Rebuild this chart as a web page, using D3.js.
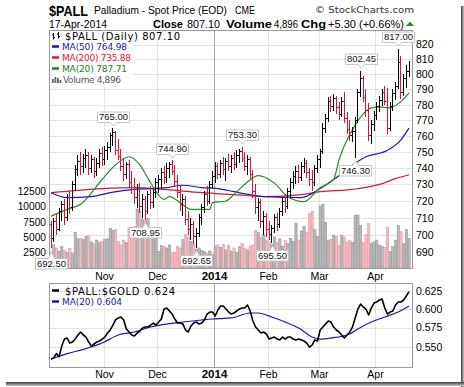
<!DOCTYPE html>
<html>
<head>
<meta charset="utf-8">
<title>$PALL</title>
<script src="https://cdn.jsdelivr.net/npm/d3@7"></script>
<style>
  body { margin: 0; background: #fff; }
  svg { display: block; }
</style>
</head>
<body>
<svg width="464" height="387" id="mainsvg"></svg>
<script>
// ---- data (one entry per trading day, 3-Oct-2013 .. 17-Apr-2014)
const opens = [706,698,708,703,714,718,710,722,716,730,
  739,744,741,746,748,740,745,738,743,749,
  745,751,753,760,762,751,747,741,736,742,
  731,727,722,728,717,721,714,724,719,725,
  731,733,737,734,740,742,738,732,725,718,
  721,709,703,706,699,701,710,716,724,720,
  730,735,741,736,743,739,744,741,746,742,
  748,750,746,741,745,736,726,716,719,708,
  711,703,700,704,710,706,714,720,717,726,
  731,735,738,734,741,743,737,733,731,740,
  745,750,765,771,782,779,784,778,774,782,
  771,764,760,763,770,788,797,785,776,760,
  767,773,779,783,788,782,765,779,787,792,
  808,788,797,801.8];
const highs = [708,710,712,716,720,721,724,726,732,742,
  748,750,749,752,750,748,747,746,752,753,
  754,756,762,765,763,758,752,746,744,745,
  738,734,730,731,724,723,726,729,727,734,
  736,740,741,743,744,744.9,742,736,729,724,
  723,714,710,708,704,712,718,726,729,732,
  738,744,743,745,747,746,749,748,750,751,
  752,753.3,750,748,747,739,730,722,721,714,
  713,708,706,712,713,716,722,724,728,734,
  738,741,742,744,746,745,740,739,742,748,
  752,768,774,785,786,787,786,782,785,788,
  775,770,766,772,790,802.45,799,790,781,770,
  776,782,786,790,792,791,782,790,795,817,
  812,800,806,809];
const lows = [692.5,696,700,702,708,706,708,712,714,726,
  735,736,737,740,736,737,734,735,740,741,
  742,745,750,754,748,745,738,732,733,728,
  724,718,716,713,710,708.95,712,715,716,722,
  725,728,730,731,734,736,729,722,714,711,
  706,700,697,695,692.65,699,706,713,717,718,
  727,731,733,734,736,732,738,737,739,740,
  743,744,738,736,733,722,712,708,704,700,
  699,697,695.5,701,702,704,711,713,715,722,
  727,730,731,732,737,734,729,726,729,737,
  740,749,762,769,775,776,774,770,772,768,
  761,757,756,746.3,768,785,782,772,757,755,
  763,770,775,779,780,761,763,776,783,790,
  784,786,791,798];
const closes = [698,708,703,714,718,710,722,716,730,739,
  744,741,746,748,740,745,738,743,749,745,
  751,753,760,762,751,747,741,736,742,731,
  727,722,728,717,721,714,724,719,725,731,
  733,737,734,740,742,738,732,725,718,721,
  709,703,706,699,701,710,716,724,720,730,
  735,741,736,743,739,744,741,746,742,748,
  750,746,741,745,736,726,716,719,708,711,
  703,700,704,710,706,714,720,717,726,731,
  735,738,734,741,743,737,733,731,740,745,
  750,765,771,782,779,784,778,774,782,771,
  764,760,763,770,788,797,785,776,760,767,
  773,779,783,788,782,765,779,787,792,808,
  788,797,801.8,807.1];
const volumes = [2600,3800,3300,2800,3500,2900,2600,3200,2400,5900,
  4800,4900,4700,5200,5300,4300,4000,4600,4200,4400,
  4700,4800,6500,6200,6300,4400,3800,4600,4200,6700,
  6600,6800,9700,9300,8000,7800,8200,5400,5000,5200,
  2700,3700,3500,3300,3800,2500,2600,3600,3300,4700,
  5500,5100,4400,3900,3100,3300,2900,2700,2400,2800,
  2200,3600,3800,3400,3900,3000,3700,2800,3300,2600,
  3500,4000,3200,3000,3600,3800,6200,5800,5000,5400,
  4600,4300,3900,5100,4200,4800,3600,4500,4000,4900,
  4400,7400,4600,6100,6800,5900,9000,9300,6300,5200,
  10200,10500,7500,4600,4700,5400,5200,3700,5400,5100,
  4300,4500,4200,8700,8700,7000,4200,5500,7300,4100,
  4300,4600,3800,3600,3400,6700,2700,3500,4600,7000,
  6000,4000,6300,4896];
const ratio = [.5352,.5365,.5418,.5378,.5512,.5601,.5614,.5550,.5563,.5601,
  .5653,.5692,.5653,.5627,.5563,.5512,.5538,.5563,.5576,.5601,
  .5627,.5679,.5718,.5783,.5850,.5877,.5890,.5850,.5731,.5692,
  .5653,.5640,.5679,.5705,.5744,.5757,.5757,.5783,.5809,.5783,
  .5823,.5863,.5998,.6012,.5971,.5930,.5863,.5809,.5809,.5796,
  .5718,.5692,.5770,.5809,.5823,.5796,.5809,.5850,.5930,.5957,
  .5957,.5903,.5985,.6039,.6039,.5998,.5957,.5930,.5944,.5971,
  .5998,.6012,.6012,.6053,.5971,.5836,.5757,.5718,.5679,.5692,
  .5666,.5601,.5614,.5627,.5601,.5589,.5627,.5601,.5627,.5627,
  .5601,.5589,.5601,.5589,.5576,.5550,.5499,.5525,.5589,.5576,
  .5718,.5757,.5796,.5836,.5823,.5757,.5718,.5692,.5653,.5614,
  .5653,.5692,.5757,.5877,.5998,.6067,.6025,.5998,.5917,.6012,
  .6081,.6095,.6123,.6137,.6012,.5930,.5957,.5971,.6053,.6095,
  .6095,.6123,.6179,.624];

// moving averages read at points along the curves: [bar index, value]
const ma20 = [[0,711],[6,715],[11,718],[19,733],[24,742],[29,747],[33,742],[37,731],[42,721],[44,722.6],
  [48,719],[52,715],[59,715],[60,719],[65,720],[68,724],[73,731.5],[77,735.3],[83,730.8],[88,722.6],
  [94,719.6],[100,728],[105,733],[107,745],[112,764],[115,772],[119,778],[122,778.6],[125,778],
  [127,778.6],[130,782],[133,787.71]];
const ma50 = [[0,725],[6,722],[15,722.6],[22,725],[31,727],[37,727.5],[43,728.1],[49,729.5],[56,728.1],
  [62,727.5],[68,725.6],[74,723.8],[80,722.6],[93,722],[100,727.5],[105,733],[117,747],[125,751],
  [130,757.6],[133,764.98]];
const ma200 = [[0,725],[19,727.5],[31,728.1],[43,726.8],[56,725],[68,723.8],[80,722.6],[93,723.8],
  [100,725.6],[112,727],[122,730],[128,733.5],[133,735.88]];
const ratioMa20 = [[0,.5352],[6,.5418],[12,.5470],[19,.5550],[25,.5653],[31,.5692],[37,.5757],[43,.5796],
  [49,.5823],[56,.5850],[60,.5863],[67,.5877],[74,.5944],[77,.5944],[82,.5890],[87,.5823],[92,.5744],
  [97,.5627],[100,.5601],[104,.5614],[111,.5666],[114,.5731],[119,.5823],[124,.5890],[129,.5957],[133,.604]];

// axes / labels
const monthIdx = [20, 40, 61, 81, 100, 121];
const monthLabels = ['Nov', 'Dec', '2014', 'Feb', 'Mar', 'Apr'];
const priceTicks = [690,700,710,720,730,740,750,760,770,780,790,800,810,820];
const volumeTicks = [2500, 5000, 7500, 10000, 12500];
const ratioTicks = [0.550, 0.575, 0.600, 0.625];
const annIdx = [0, 23, 35, 45, 54, 71, 82, 113, 115, 129];
const annVal = [692.50, 765.00, 708.95, 744.90, 692.65, 753.30, 695.50, 746.30, 802.45, 817.00];
const annSide = ['lo','hi','lo','hi','lo','hi','lo','lo','hi','hi'];

const svg = d3.select('#mainsvg');
const width = +svg.attr('width');
const height = +svg.attr('height');
const P = { left: 49, right: 412, top: 30, bottom: 268 };
const L = { left: 49, right: 412, top: 283, bottom: 367 };
const sans = '"Liberation Sans", Arial, sans-serif';
const verd = '"DejaVu Sans", Verdana, sans-serif';

svg.append('rect').attr('width', width).attr('height', height).attr('fill', '#fff');

// drop shadow on right / bottom
const defs = svg.append('defs');
const gR = defs.append('linearGradient').attr('id', 'shR').attr('x1', 0).attr('x2', 1).attr('y1', 0).attr('y2', 0);
gR.append('stop').attr('offset', 0).attr('stop-color', '#3a3a3a');
gR.append('stop').attr('offset', 1).attr('stop-color', '#c8c8c8');
const gB = defs.append('linearGradient').attr('id', 'shB').attr('x1', 0).attr('x2', 0).attr('y1', 0).attr('y2', 1);
gB.append('stop').attr('offset', 0).attr('stop-color', '#3a3a3a');
gB.append('stop').attr('offset', 1).attr('stop-color', '#c8c8c8');
svg.append('rect').attr('x', 461).attr('y', 6).attr('width', 3).attr('height', 381).attr('fill', 'url(#shR)');
svg.append('rect').attr('x', 6).attr('y', 382).attr('width', 458).attr('height', 4).attr('fill', 'url(#shB)');

defs.append('clipPath').attr('id', 'clipMain').append('rect')
  .attr('x', P.left).attr('y', P.top).attr('width', P.right - P.left).attr('height', P.bottom - P.top);
defs.append('clipPath').attr('id', 'clipLow').append('rect')
  .attr('x', L.left).attr('y', L.top).attr('width', L.right - L.left).attr('height', L.bottom - L.top);

// scales
const xScale = d3.scaleLinear().domain([0, closes.length - 1]).range([51, 409]);
const xGrid = i => Math.round(xScale(i) - 1.3) + 0.5;
const yPrice = d3.scaleLog().domain([681, 830]).range([P.bottom, P.top]);
const yVol = d3.scaleLinear().domain([0, 12500]).range([P.bottom, 192]);
const yRatio = d3.scaleLog().domain([0.5255, 0.6365]).range([L.bottom, L.top]);

// ---------- header
svg.append('text').attr('x', 49).attr('y', 15.5).text('$PALL')
  .attr('font-family', sans).attr('font-weight', 'bold').attr('font-size', 15.5)
  .attr('textLength', 39).attr('lengthAdjust', 'spacingAndGlyphs');
const hdr = [
  { t: 'Palladium - Spot Price (EOD)', x: 94, y: 14, w: 133 },
  { t: 'CME', x: 235, y: 14, w: 20 },
  { t: '17-Apr-2014', x: 49, y: 27.5, w: 58 },
  { t: 'Close', x: 153, y: 27.5, w: 30, b: true },
  { t: '807.10', x: 187, y: 27.5, w: 33 },
  { t: 'Volume', x: 226, y: 27.5, w: 46, b: true },
  { t: '4,896', x: 274, y: 27.5, w: 24 },
  { t: 'Chg', x: 301, y: 27.5, w: 25, b: true },
  { t: '+5.30 (+0.66%)', x: 328, y: 27.5, w: 76 }
];
hdr.forEach(h => {
  svg.append('text').attr('x', h.x).attr('y', h.y).text(h.t)
    .attr('font-family', sans).attr('font-size', 10.5)
    .attr('font-weight', h.b ? 'bold' : 'normal')
    .attr('textLength', h.w).attr('lengthAdjust', 'spacingAndGlyphs');
});
svg.append('text').attr('x', 315).attr('y', 13).text('\u00A9 StockCharts.com')
  .attr('font-family', verd).attr('font-size', 9.5).attr('fill', '#333')
  .attr('textLength', 99).attr('lengthAdjust', 'spacingAndGlyphs');
svg.append('path').attr('d', 'M406,26 L414,26 L410,21.5 Z').attr('fill', '#2e8b2e');

// ---------- main panel
const gMain = svg.append('g');
// grid
gMain.selectAll('.hgrid').data(priceTicks).join('line')
  .attr('x1', P.left).attr('x2', P.right)
  .attr('y1', d => Math.round(yPrice(d)) + 0.5).attr('y2', d => Math.round(yPrice(d)) + 0.5)
  .attr('stroke', '#e3e3e3');
gMain.selectAll('.vgrid').data(monthIdx).join('line')
  .attr('x1', d => xGrid(d)).attr('x2', d => xGrid(d))
  .attr('y1', P.top).attr('y2', P.bottom)
  .attr('stroke', d => d === 61 ? '#a9a9a9' : '#e3e3e3');

const up = i => closes[i] >= (i > 0 ? closes[i - 1] : opens[i]);

// volume
gMain.append('g').attr('clip-path', 'url(#clipMain)')
  .selectAll('rect').data(volumes).join('rect')
  .attr('x', (d, i) => xScale(i) - 1.1).attr('width', 2.3)
  .attr('y', d => yVol(d)).attr('height', d => yVol(0) - yVol(d))
  .attr('fill', (d, i) => up(i) ? '#b9b9b9' : '#f3bcc2')
  .attr('stroke', (d, i) => up(i) ? '#8d8d8d' : '#e0909c')
  .attr('stroke-width', 0.5);

// moving averages
const maLine = d3.line().x(d => xScale(d[0])).y(d => yPrice(d[1])).curve(d3.curveMonotoneX);
const gMa = gMain.append('g').attr('clip-path', 'url(#clipMain)').attr('fill', 'none').attr('stroke-width', 1.2);
gMa.append('path').datum(ma200).attr('d', maLine).attr('stroke', '#dc143c');
gMa.append('path').datum(ma50).attr('d', maLine).attr('stroke', '#1c1c9a');
gMa.append('path').datum(ma20).attr('d', maLine).attr('stroke', '#2a8a2a');

// price bars (OHLC)
const gBars = gMain.append('g').attr('clip-path', 'url(#clipMain)').attr('shape-rendering', 'crispEdges');
closes.forEach((c, i) => {
  const xi = xScale(i);
  const col = up(i) ? '#000' : '#e0103c';
  const bar = gBars.append('g').attr('stroke', col).attr('stroke-width', 1);
  bar.append('line').attr('x1', xi).attr('x2', xi).attr('y1', yPrice(highs[i])).attr('y2', yPrice(lows[i]));
  bar.append('line').attr('x1', xi - 1.4).attr('x2', xi).attr('y1', yPrice(opens[i])).attr('y2', yPrice(opens[i]));
  bar.append('line').attr('x1', xi).attr('x2', xi + 1.4).attr('y1', yPrice(c)).attr('y2', yPrice(c));
});

// border
gMain.append('rect').attr('x', P.left + 0.5).attr('y', P.top + 0.5)
  .attr('width', P.right - P.left).attr('height', P.bottom - P.top)
  .attr('fill', 'none').attr('stroke', '#9a9a9a');

// right price axis
const yAxis = d3.axisRight(yPrice).tickValues(priceTicks).tickSize(0).tickPadding(4).tickFormat(d3.format('d'));
const yAxisG = svg.append('g').attr('transform', `translate(${P.right},0)`).call(yAxis);
yAxisG.select('.domain').remove();
yAxisG.selectAll('text').attr('font-family', sans).attr('font-size', 10.5).attr('fill', '#000');

// left volume axis
const vAxis = d3.axisLeft(yVol).tickValues(volumeTicks).tickSize(0).tickPadding(3).tickFormat(d3.format('d'));
const vAxisG = svg.append('g').attr('transform', `translate(${P.left},-0.5)`).call(vAxis);
vAxisG.select('.domain').remove();
vAxisG.selectAll('text').attr('font-family', sans).attr('font-size', 10.2).attr('fill', '#000');

// month labels
const monthAxis = (yPos) => {
  const g = svg.append('g');
  g.selectAll('text').data(monthIdx).join('text')
    .attr('x', d => xGrid(d)).attr('y', yPos)
    .attr('text-anchor', 'middle')
    .attr('font-family', sans)
    .attr('font-size', (d, i) => monthLabels[i] === '2014' ? 11.5 : 10.5)
    .attr('font-weight', (d, i) => monthLabels[i] === '2014' ? 'bold' : 'normal')
    .text((d, i) => monthLabels[i]);
};
monthAxis(280);

// callouts for highs / lows
const gAnn = svg.append('g');
annIdx.forEach((idx, k) => {
  const cx = Math.round(xScale(idx)) + 0.5;
  const py = yPrice(annVal[k]);
  const w = 32, h = 10.5;
  const x0 = cx - w / 2, x1 = cx + w / 2;
  let d, ty;
  if (annSide[k] === 'hi') {
    const yb = Math.round(py - 6.5) + 0.5, yt = yb - h;
    d = `M${x0},${yt}H${x1}V${yb}H${cx + 3}L${cx},${yb + 3.5}L${cx - 3},${yb}H${x0}Z`;
    ty = yb - 2.3;
  } else {
    // keep clear of the volume labels when the box hangs past the panel edge
    const gap = x0 < P.left ? 10 : 7.5;
    const yt = Math.round(py + gap) + 0.5, yb = yt + h;
    d = `M${x0},${yt}H${cx - 3}L${cx},${yt - gap + 3}L${cx + 3},${yt}H${x1}V${yb}H${x0}Z`;
    ty = yb - 2.3;
  }
  gAnn.append('path').attr('d', d).attr('fill', '#fff').attr('stroke', '#c4c4c4');
  gAnn.append('text').attr('x', cx).attr('y', ty).attr('text-anchor', 'middle')
    .attr('font-family', sans).attr('font-size', 9.5).attr('fill', '#111')
    .text(d3.format('.2f')(annVal[k]));
});

// legend (main)
const gLeg = svg.append('g');
gLeg.append('rect').attr('x', 50).attr('y', 31).attr('width', 133).attr('height', 10).attr('fill', '#fff');
gLeg.append('rect').attr('x', 50).attr('y', 42).attr('width', 83).attr('height', 43).attr('fill', '#fff');
// ohlc icon
[[53.5, 33, 39.5], [58.5, 32, 38.5]].forEach(b => {
  gLeg.append('line').attr('x1', b[0]).attr('x2', b[0]).attr('y1', b[1]).attr('y2', b[2]).attr('stroke', '#000');
  gLeg.append('line').attr('x1', b[0] - 1.5).attr('x2', b[0]).attr('y1', b[1] + 2).attr('y2', b[1] + 2).attr('stroke', '#000');
  gLeg.append('line').attr('x1', b[0]).attr('x2', b[0] + 1.5).attr('y1', b[2] - 2).attr('y2', b[2] - 2).attr('stroke', '#000');
});
gLeg.append('text').attr('x', 65).attr('y', 39.5).text('$PALL (Daily) 807.10')
  .attr('font-family', verd).attr('font-size', 10)
  .attr('textLength', 115).attr('lengthAdjust', 'spacing');
const legRows = [
  { t: 'MA(50) 764.98', c: '#1c1c9a', y: 50, w: 65 },
  { t: 'MA(200) 735.88', c: '#dc143c', y: 61, w: 69 },
  { t: 'MA(20) 787.71', c: '#2a7a2a', y: 72, w: 65 }
];
legRows.forEach(r => {
  gLeg.append('line').attr('x1', 52).attr('x2', 59).attr('y1', r.y - 3.5).attr('y2', r.y - 3.5)
    .attr('stroke', r.c).attr('stroke-width', 2.5);
  gLeg.append('text').attr('x', 62).attr('y', r.y).text(r.t).attr('fill', r.c)
    .attr('font-family', verd).attr('font-size', 9)
    .attr('textLength', r.w).attr('lengthAdjust', 'spacing');
});
[[52, 79, 4], [54.5, 77, 6], [57, 78, 5], [59.5, 80, 3]].forEach(b => {
  gLeg.append('rect').attr('x', b[0]).attr('y', b[1]).attr('width', 1.8).attr('height', b[2]).attr('fill', '#666');
});
gLeg.append('text').attr('x', 63).attr('y', 83).text('Volume 4,896').attr('fill', '#555')
  .attr('font-family', verd).attr('font-size', 9)
  .attr('textLength', 58).attr('lengthAdjust', 'spacing');

// ---------- lower panel ($PALL:$GOLD)
const gLow = svg.append('g');
gLow.selectAll('.hgrid').data(ratioTicks).join('line')
  .attr('x1', L.left).attr('x2', L.right)
  .attr('y1', d => Math.round(yRatio(d)) + 0.5).attr('y2', d => Math.round(yRatio(d)) + 0.5)
  .attr('stroke', '#e3e3e3');
gLow.selectAll('.vgrid').data(monthIdx).join('line')
  .attr('x1', d => xGrid(d)).attr('x2', d => xGrid(d))
  .attr('y1', L.top).attr('y2', L.bottom)
  .attr('stroke', d => d === 61 ? '#a9a9a9' : '#e3e3e3');

const gLowLines = gLow.append('g').attr('clip-path', 'url(#clipLow)').attr('fill', 'none');
gLowLines.append('path').datum(ratioMa20)
  .attr('d', d3.line().x(d => xScale(d[0])).y(d => yRatio(d[1])).curve(d3.curveMonotoneX))
  .attr('stroke', '#1c1c9a').attr('stroke-width', 1.2);
gLowLines.append('path').datum(ratio)
  .attr('d', d3.line().x((d, i) => xScale(i)).y(d => yRatio(d)))
  .attr('stroke', '#000').attr('stroke-width', 1.6).attr('stroke-linejoin', 'round');

gLow.append('rect').attr('x', L.left + 0.5).attr('y', L.top + 0.5)
  .attr('width', L.right - L.left).attr('height', L.bottom - L.top)
  .attr('fill', 'none').attr('stroke', '#9a9a9a');

const rAxis = d3.axisRight(yRatio).tickValues(ratioTicks).tickSize(0).tickPadding(4).tickFormat(d3.format('.3f'));
const rAxisG = svg.append('g').attr('transform', `translate(${L.right},0)`).call(rAxis);
rAxisG.select('.domain').remove();
rAxisG.selectAll('text').attr('font-family', sans).attr('font-size', 10.5).attr('fill', '#000');

monthAxis(378);

// legend (lower)
gLow.append('line').attr('x1', 52).attr('x2', 59).attr('y1', 290.5).attr('y2', 290.5).attr('stroke', '#000').attr('stroke-width', 2.5);
gLow.append('text').attr('x', 65).attr('y', 294.5).text('$PALL:$GOLD 0.624')
  .attr('font-family', verd).attr('font-size', 10)
  .attr('textLength', 110).attr('lengthAdjust', 'spacing');
gLow.append('line').attr('x1', 52).attr('x2', 59).attr('y1', 301.5).attr('y2', 301.5).attr('stroke', '#1c1c9a').attr('stroke-width', 2.5);
gLow.append('text').attr('x', 62).attr('y', 305).text('MA(20) 0.604').attr('fill', '#1c1c9a')
  .attr('font-family', verd).attr('font-size', 9)
  .attr('textLength', 60).attr('lengthAdjust', 'spacing');
</script>
</body>
</html>
